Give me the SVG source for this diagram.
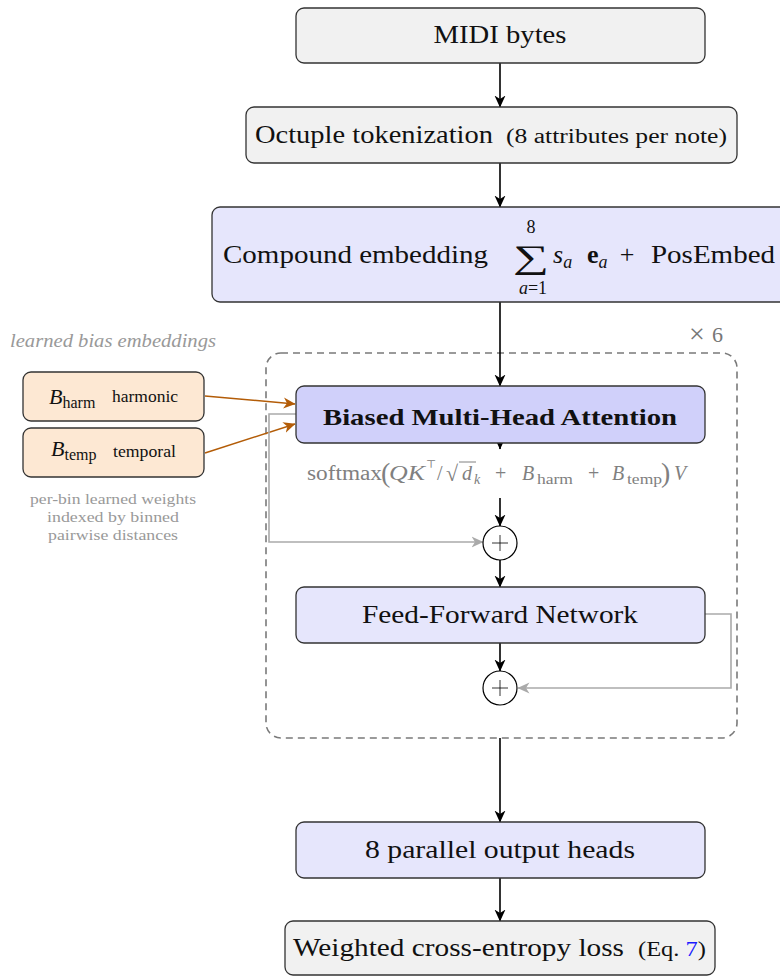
<svg xmlns="http://www.w3.org/2000/svg" width="780" height="977" viewBox="0 0 780 977">
  <defs>
    <marker id="ah" viewBox="0 0 12 12" refX="11.5" refY="6" markerWidth="12" markerHeight="12" markerUnits="userSpaceOnUse" orient="auto">
      <path d="M0,0.5 L12,6 L0,11.5 L3.5,6 z" fill="#000"/>
    </marker>
    <marker id="ahOrange" viewBox="0 0 12 12" refX="11.5" refY="6" markerWidth="12" markerHeight="12" markerUnits="userSpaceOnUse" orient="auto">
      <path d="M0,0.5 L12,6 L0,11.5 L3.5,6 z" fill="#b35c07"/>
    </marker>
    <marker id="ahGray" viewBox="0 0 12 12" refX="11.5" refY="6" markerWidth="12" markerHeight="12" markerUnits="userSpaceOnUse" orient="auto">
      <path d="M0,0.5 L12,6 L0,11.5 L3.5,6 z" fill="#aaaaaa"/>
    </marker>
  </defs>
  <style>
    text { font-family: "Liberation Serif", "DejaVu Serif", serif; fill: #111; }
    .box { stroke: #333; stroke-width: 1.3; }
    .plain { fill: #f1f1f1; }
    .lav { fill: #e6e6fc; }
    .attn { fill: #d0d0fa; }
    .bias { fill: #fde8d3; }
    .lbl { font-size: 26px; }
    .it { font-style: italic; }
    .gray { fill: #808080; }
    .flow { stroke: #000; stroke-width: 1.6; fill: none; marker-end: url(#ah); }
    .biasflow { stroke: #b35c07; stroke-width: 1.5; fill: none; marker-end: url(#ahOrange); }
    .res { stroke: #aaaaaa; stroke-width: 1.6; fill: none; marker-end: url(#ahGray); }
    .sum { fill: #fff; stroke: #000; stroke-width: 1.2; }
    .plus { stroke: #000; stroke-width: 0.8; }
  </style>

  <!-- repeated block frame -->
  <g id="block-frame">
    <rect x="266" y="353" width="471" height="385" rx="15" fill="none" stroke="#7a7a7a" stroke-width="1.6" stroke-dasharray="7,5"/>
    <text x="689" y="343" style="font-size:28px;fill:#777">×</text>
    <text x="712" y="342" style="font-size:22px;fill:#777">6</text>
  </g>

  <!-- connectors -->
  <g id="connectors">
    <path class="flow" d="M500,63 V107"/>
    <path class="flow" d="M500,163 V207"/>
    <path class="flow" d="M500,302 V386"/>
    <path class="flow" d="M500,441 V449"/>
    <path class="flow" d="M500,498 V526"/>
    <path class="flow" d="M500,560 V587"/>
    <path class="flow" d="M500,643 V671"/>
    <path class="flow" d="M500,738 V822"/>
    <path class="flow" d="M500,878 V921"/>
    <path class="biasflow" d="M205,396 L295,404"/>
    <path class="biasflow" d="M205,453 L295,424"/>
    <path class="res" d="M296,414 H269 V542 H483"/>
    <path class="res" d="M705,614 H731 V688 H518"/>
  </g>

  <g id="midi">
    <rect class="box plain" x="296" y="8" width="409" height="55" rx="8"/>
    <text class="lbl" x="500" y="43" text-anchor="middle" textLength="133" lengthAdjust="spacingAndGlyphs">MIDI bytes</text>
  </g>

  <g id="tokenize">
    <rect class="box plain" x="246" y="107" width="491" height="56" rx="8"/>
    <text class="lbl" x="255" y="143" textLength="238" lengthAdjust="spacingAndGlyphs">Octuple tokenization</text>
    <text x="506" y="143" style="font-size:20px" textLength="221" lengthAdjust="spacingAndGlyphs">(8 attributes per note)</text>
  </g>

  <g id="embedding">
    <rect class="box lav" x="212" y="207" width="600" height="95" rx="8"/>
    <text class="lbl" x="223" y="263" textLength="265" lengthAdjust="spacingAndGlyphs">Compound embedding</text>
    <text x="531" y="268" text-anchor="middle" style="font-size:33px" textLength="36" lengthAdjust="spacingAndGlyphs">∑</text>
    <text x="531" y="233" text-anchor="middle" style="font-size:18px">8</text>
    <text x="533" y="294" text-anchor="middle" style="font-size:18px"><tspan class="it">a</tspan>=1</text>
    <text x="553" y="263" class="lbl"><tspan class="it">s</tspan><tspan class="it" style="font-size:18px" dy="5">a</tspan></text>
    <text x="587" y="263" class="lbl"><tspan style="font-weight:bold">e</tspan><tspan class="it" style="font-size:18px" dy="5">a</tspan></text>
    <text x="627" y="263" class="lbl" text-anchor="middle">+</text>
    <text x="651" y="263" class="lbl" textLength="124" lengthAdjust="spacingAndGlyphs">PosEmbed</text>
  </g>

  <g id="bias-legend">
    <text x="10" y="347" class="it" style="font-size:18px;fill:#999" textLength="206" lengthAdjust="spacingAndGlyphs">learned bias embeddings</text>
    <text x="113" y="504" text-anchor="middle" style="font-size:14.5px;fill:#999" textLength="166" lengthAdjust="spacingAndGlyphs">per-bin learned weights</text>
    <text x="113" y="522" text-anchor="middle" style="font-size:14.5px;fill:#999" textLength="132" lengthAdjust="spacingAndGlyphs">indexed by binned</text>
    <text x="113" y="540" text-anchor="middle" style="font-size:14.5px;fill:#999" textLength="130" lengthAdjust="spacingAndGlyphs">pairwise distances</text>
  </g>

  <g id="bias-harm">
    <rect class="box bias" x="23" y="372" width="181" height="49" rx="8"/>
    <text x="49" y="404" style="font-size:22px"><tspan class="it">B</tspan><tspan style="font-size:16px" dy="4">harm</tspan></text>
    <text x="112" y="402" style="font-size:16px" textLength="66" lengthAdjust="spacingAndGlyphs">harmonic</text>
  </g>

  <g id="bias-temp">
    <rect class="box bias" x="23" y="428" width="181" height="49" rx="8"/>
    <text x="51" y="456" style="font-size:22px"><tspan class="it">B</tspan><tspan style="font-size:16px" dy="4">temp</tspan></text>
    <text x="113" y="457" style="font-size:16px" textLength="63" lengthAdjust="spacingAndGlyphs">temporal</text>
  </g>

  <g id="attention">
    <rect class="box attn" x="296" y="386" width="409" height="57" rx="8"/>
    <text x="500" y="425" text-anchor="middle" style="font-size:24px;font-weight:bold" textLength="354" lengthAdjust="spacingAndGlyphs">Biased Multi-Head Attention</text>
  </g>

  <g id="attention-formula">
    <text x="307" y="480" class="gray" style="font-size:20px" textLength="75" lengthAdjust="spacingAndGlyphs">softmax</text>
    <text x="381" y="482" class="gray" style="font-size:28px">(</text>
    <text x="389" y="480" class="gray it" style="font-size:21px" textLength="36" lengthAdjust="spacingAndGlyphs">QK</text>
    <text x="426" y="468" class="gray" style="font-size:11px">⊤</text>
    <text x="437" y="480" class="gray" style="font-size:20px">/</text>
    <text x="446" y="481" class="gray" style="font-size:22px">√</text>
    <line x1="459" y1="462" x2="476" y2="462" stroke="#808080" stroke-width="1"/>
    <text x="462" y="480" class="gray it" style="font-size:20px">d</text>
    <text x="474" y="484" class="gray it" style="font-size:14px">k</text>
    <text x="495" y="480" class="gray" style="font-size:20px">+</text>
    <text x="522" y="480" class="gray it" style="font-size:20px">B</text>
    <text x="537" y="484" class="gray" style="font-size:15px" textLength="36" lengthAdjust="spacingAndGlyphs">harm</text>
    <text x="588" y="480" class="gray" style="font-size:20px">+</text>
    <text x="612" y="480" class="gray it" style="font-size:20px">B</text>
    <text x="627" y="484" class="gray" style="font-size:15px" textLength="35" lengthAdjust="spacingAndGlyphs">temp</text>
    <text x="661" y="482" class="gray" style="font-size:28px">)</text>
    <text x="674" y="480" class="gray it" style="font-size:20px">V</text>
  </g>

  <g id="add-1">
    <circle class="sum" cx="500" cy="543" r="17"/>
    <path class="plus" d="M492,543 H508 M500,535 V551"/>
  </g>

  <g id="ffn">
    <rect class="box lav" x="296" y="587" width="409" height="56" rx="8"/>
    <text class="lbl" x="500" y="623" text-anchor="middle" textLength="276" lengthAdjust="spacingAndGlyphs">Feed-Forward Network</text>
  </g>

  <g id="add-2">
    <circle class="sum" cx="500" cy="688" r="17"/>
    <path class="plus" d="M492,688 H508 M500,680 V696"/>
  </g>

  <g id="heads">
    <rect class="box lav" x="296" y="822" width="409" height="56" rx="8"/>
    <text class="lbl" x="500" y="858" text-anchor="middle" textLength="270" lengthAdjust="spacingAndGlyphs">8 parallel output heads</text>
  </g>

  <g id="loss">
    <rect class="box plain" x="285" y="921" width="430" height="54" rx="8"/>
    <text class="lbl" x="293" y="956" textLength="331" lengthAdjust="spacingAndGlyphs">Weighted cross-entropy loss</text>
    <text x="638" y="956" style="font-size:21px" textLength="68" lengthAdjust="spacingAndGlyphs">(Eq. <tspan style="fill:#1a1aff">7</tspan>)</text>
  </g>
</svg>
